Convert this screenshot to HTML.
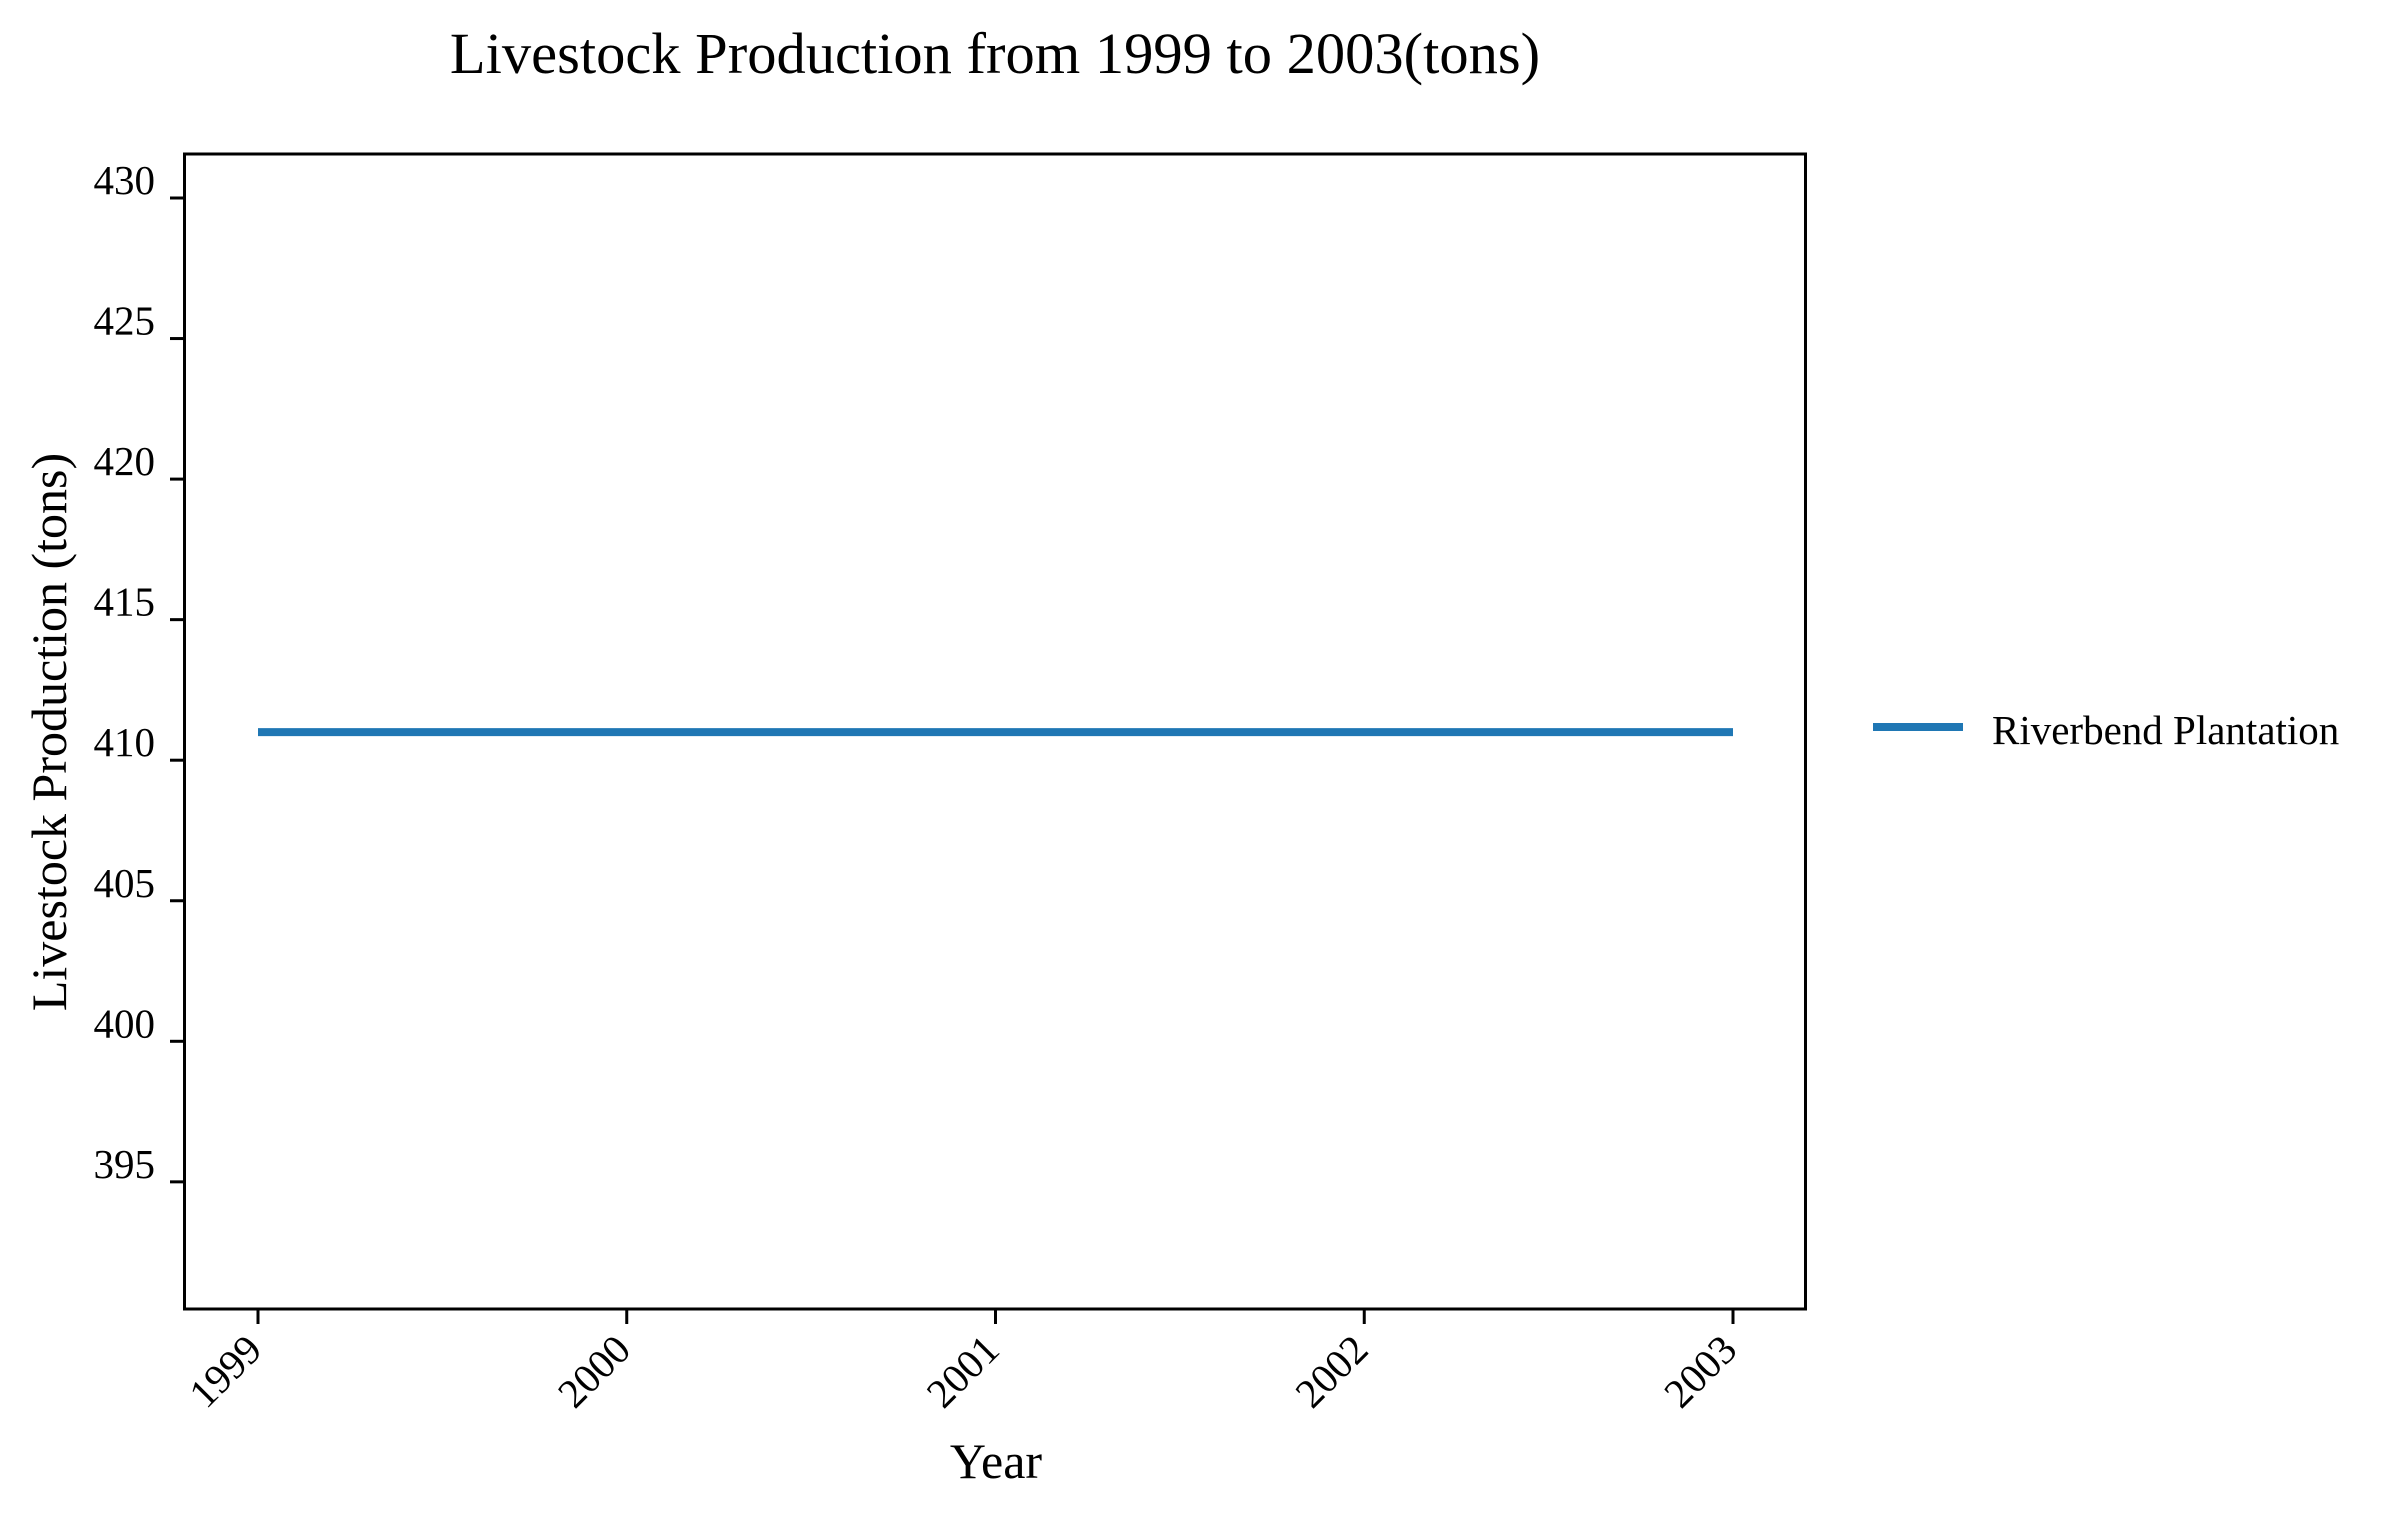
<!DOCTYPE html>
<html><head><meta charset="utf-8"><style>
html,body{margin:0;padding:0;background:#fff;}
svg{display:block;font-family:"Liberation Serif",serif;}
</style></head><body>
<svg id="chart" width="2390" height="1517" viewBox="0 0 2390 1517">
<text x="995" y="73" text-anchor="middle" font-size="58.5">Livestock Production from 1999 to 2003(tons)</text>
<rect x="184.5" y="154" width="1621" height="1155" fill="none" stroke="#000" stroke-width="3"/>
<g id="yticks"></g>
<g id="xticks"></g>
<g id="series"></g>
<text transform="translate(66,732) rotate(-90)" text-anchor="middle" font-size="50">Livestock Production (tons)</text>
<text x="996" y="1478" text-anchor="middle" font-size="50">Year</text>
<g>
<line x1="1873" y1="727" x2="1963" y2="727" stroke="#1f77b4" stroke-width="8"/>
<text x="1992" y="744" font-size="41">Riverbend Plantation</text>
</g>
</svg>
<script>
const years = ["1999","2000","2001","2002","2003"];
const production = [411, 411, 411, 411, 411];
const yTicks = [395, 400, 405, 410, 415, 420, 425, 430];
const NS = "http://www.w3.org/2000/svg";
function xPos(i){ return 258 + i * (1733 - 258) / 4; }
function yPos(v){ return 198 + (430 - v) * 28.11; }
function mk(tag, attrs, parent){
  const el = document.createElementNS(NS, tag);
  for (const k in attrs) el.setAttribute(k, attrs[k]);
  parent.appendChild(el);
  return el;
}
const yg = document.getElementById('yticks');
yTicks.forEach(v => {
  const y = yPos(v);
  const t = mk('line', {x1:170, x2:184.5, y1:y, y2:y, stroke:'#000', 'stroke-width':3}, yg);
  
  
  const l = mk('text', {x:155, y:y-4, 'text-anchor':'end', 'font-size':41}, yg);
  l.textContent = v;
  
  
});
const xg = document.getElementById('xticks');
years.forEach((yr, i) => {
  const x = xPos(i);
  const t = mk('line', {x1:x, x2:x, y1:1309, y2:1324, stroke:'#000', 'stroke-width':3}, xg);
  
  
  const l = mk('text', {x:x+6, y:1352, 'text-anchor':'end', 'font-size':41, transform:`rotate(-45 ${x+6} 1352)`}, xg);
  l.textContent = yr;
  
  
});
const sg = document.getElementById('series');
const pts = production.map((v, i) => xPos(i) + ',' + yPos(v)).join(' ');
const pl = mk('polyline', {points:pts, fill:'none', stroke:'#1f77b4', 'stroke-width':8}, sg);


</script>
</body></html>
